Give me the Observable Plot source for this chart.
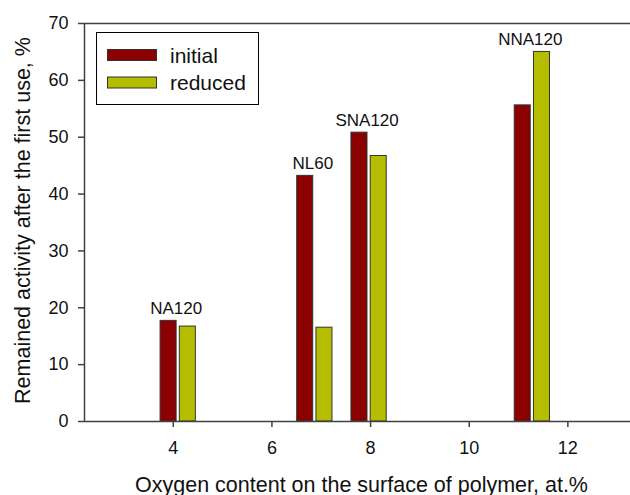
<!DOCTYPE html>
<html>
<head>
<meta charset="utf-8">
<script src="https://cdn.jsdelivr.net/npm/d3@7"></script>
<script src="https://cdn.jsdelivr.net/npm/@observablehq/plot@0.6"></script>
<style>
  html, body { margin: 0; padding: 0; background: #fff; }
  #chart { width: 630px; height: 495px; }
</style>
</head>
<body>
<div id="chart"></div>
<script>
// Catalyst samples, their surface oxygen content and remaining activity
const samples = ["NA120", "NL60", "SNA120", "NNA120"];
const oxygen = [4.1, 6.87, 7.97, 11.28];
const initial = [17.7, 43.2, 50.8, 55.6];
const reduced = [16.7, 16.5, 46.7, 65.0];
const seriesNames = ["initial", "reduced"];
const seriesColors = ["#8b0000", "#b5bd00"];
const yTicks = [0, 10, 20, 30, 40, 50, 60, 70];
const xTicks = [4, 6, 8, 10, 12];

const barW = 0.325;   // bar width, at.%
const gap = 0.065;    // space between paired bars, at.%

const bars = [];
samples.forEach((s, i) => {
  bars.push({sample: s, series: "initial", x1: oxygen[i] - gap / 2 - barW, x2: oxygen[i] - gap / 2, v: initial[i]});
  bars.push({sample: s, series: "reduced", x1: oxygen[i] + gap / 2, x2: oxygen[i] + gap / 2 + barW, v: reduced[i]});
});
const labels = samples.map((s, i) => ({sample: s, x: oxygen[i], top: Math.max(initial[i], reduced[i])}));

const font = "'Liberation Sans', Arial, Helvetica, sans-serif";
const axisColor = "#404040";

const chart = Plot.plot({
  width: 630,
  height: 495,
  marginLeft: 84,
  marginRight: 0,
  marginTop: 23,
  marginBottom: 74,
  style: {fontFamily: font, background: "#fff", color: "#111"},
  x: {domain: [2.2, 13.27]},
  y: {domain: [0, 70]},
  color: {domain: seriesNames, range: seriesColors},
  marks: [
    Plot.rectY(bars, {x1: "x1", x2: "x2", y1: 0, y2: "v", fill: "series", stroke: "#333", strokeWidth: 1}),
    Plot.ruleY([0, 70], {stroke: axisColor, strokeWidth: 1.5}),
    Plot.ruleX([2.2], {stroke: axisColor, strokeWidth: 1.5}),
    Plot.axisY(yTicks, {tickSize: 6, tickPadding: 10, fontSize: 18, stroke: axisColor, strokeWidth: 1.5, label: null}),
    Plot.axisX(xTicks, {tickSize: 6, tickPadding: 14, fontSize: 18, stroke: axisColor, strokeWidth: 1.5, label: null}),
    Plot.text(labels, {x: "x", y: "top", text: "sample", dx: -2, dy: -7, lineAnchor: "bottom", fontSize: 17, fill: "#111"}),
    Plot.text(["Oxygen content on the surface of polymer, at.%"], {frameAnchor: "bottom", textAnchor: "middle", dx: 4, dy: 70, lineAnchor: "bottom", fontSize: 21.5, fill: "#111"}),
    Plot.text(["Remained activity after the first use, %"], {frameAnchor: "left", textAnchor: "middle", lineAnchor: "middle", dx: -61, dy: -2, rotate: -90, fontSize: 21.5, fill: "#111"})
  ]
});

// Legend box in the upper-left corner of the plot area
const svg = d3.select(chart);
const lg = svg.append("g").attr("font-family", font).attr("text-anchor", "start");
lg.append("rect").attr("x", 96.5).attr("y", 32.5).attr("width", 162).attr("height", 72)
  .attr("fill", "#fff").attr("stroke", "#000").attr("stroke-width", 1);
seriesNames.forEach((name, i) => {
  const y = 49.5 + i * 27.5;
  lg.append("rect").attr("x", 107.5).attr("y", y).attr("width", 49).attr("height", 11)
    .attr("fill", seriesColors[i]).attr("stroke", "#333").attr("stroke-width", 1);
  lg.append("text").attr("x", 170).attr("y", y + 13).attr("font-size", 21).attr("fill", "#111").text(name);
});

document.getElementById("chart").appendChild(chart);
</script>
</body>
</html>
